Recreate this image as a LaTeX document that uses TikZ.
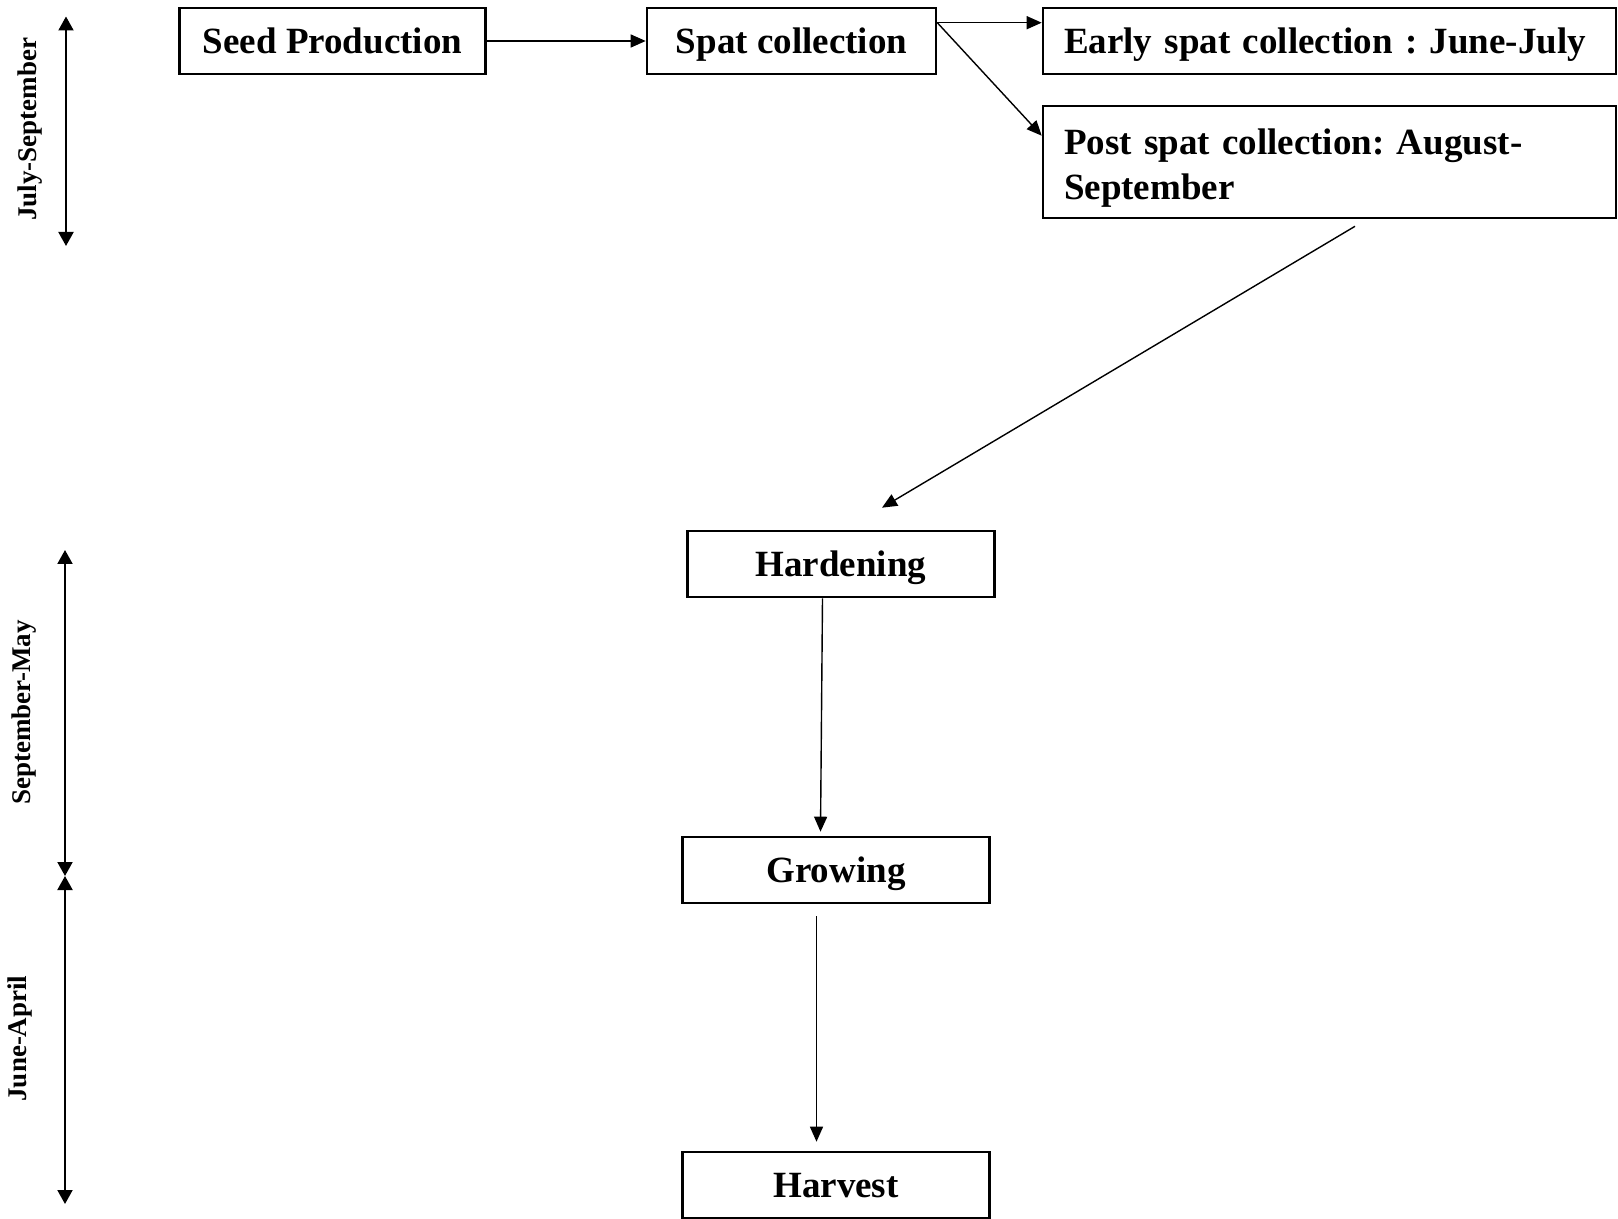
\documentclass[tikz,border=0pt]{standalone}
\usepackage{fontspec}
\setmainfont{Liberation Serif}
\usetikzlibrary{arrows.meta,calc}
\frenchspacing
\begin{document}
\begin{tikzpicture}[x=0.5pt,y=-0.5pt,
  boxfont/.style={font=\frenchspacing\fontsize{18.5}{22.5}\selectfont\bfseries},
  box/.style={draw,line width=1.3pt,inner sep=0pt,boxfont},
  cbox/.style={box,align=center,minimum height=33pt,text height=12.6pt,text depth=0.4pt},
  lbox/.style={box,align=left,text width=265.5pt,inner xsep=10.5pt},
  ltext/.style={boxfont,align=left,text width=265.5pt,inner xsep=10.5pt,inner ysep=0pt},
  arr/.style={line width=0.7pt,-{Triangle[length=7.5pt,width=6.5pt]}},
  period/.style={line width=1pt,{Triangle[length=7pt,width=7.5pt]}-{Triangle[length=7pt,width=7.5pt]}},
  side/.style={rotate=90,font=\fontsize{13.5}{16}\selectfont\bfseries,inner sep=0pt}]
\useasboundingbox (0,0) rectangle (1618,1219);
% boxes
\node[cbox,minimum width=153pt] (seed) at (332.5,41) {Seed Production};
\node[cbox,minimum width=144.5pt] (spat) at (791.5,41) {Spat collection};
\node[lbox,minimum height=33pt,text height=12.6pt,text depth=0.4pt] (early) at (1329.5,41) {Early spat collection : June-July};
\node[lbox,minimum height=56pt] (post) at (1329.5,162) {};
\node[ltext] (posttext) at ($(post.center)+(0,6)$) {Post spat collection: August-\\September};
\node[cbox,minimum width=153.5pt] (hard) at (841,564) {Hardening};
\node[cbox,minimum width=153.5pt] (grow) at (836,870) {Growing};
\node[cbox,minimum width=153.5pt] (harv) at (836,1185) {Harvest};
% connectors
\coordinate (sp) at ($(spat.north east)+(0,16)$);
\draw[arr] (seed.east) -- (spat.west);
\draw[arr] (sp) -- (sp -| early.west);
\draw[arr] (sp) -- ($(post.north west)+(0,31)$);
\draw[arr] ($(post.south)+(25.5,7)$) -- ($(hard.north)+(41,-22)$);
\draw[arr] ($(hard.south)+(-18.5,0)$) -- ($(grow.north)+(-15.5,-4)$);
\draw[arr] ($(grow.south)+(-19.5,12)$) -- ($(harv.north)+(-19.5,-9)$);
% period arrows
\coordinate (a1) at (66,16.5);
\coordinate (a2) at (66,246);
\coordinate (b1) at (65,550);
\coordinate (b2) at (65,876);
\coordinate (c2) at (65,1204);
\draw[period] (a1) -- (a2);
\draw[period] (b1) -- (b2);
\draw[period] (b2) -- (c2);
\node[side] (l1) at (30,129.5) {July-September};
\node[side] (l2) at (24,712.5) {September-May};
\node[side] (l3) at (20,1038.5) {June-April};
\end{tikzpicture}
\end{document}
